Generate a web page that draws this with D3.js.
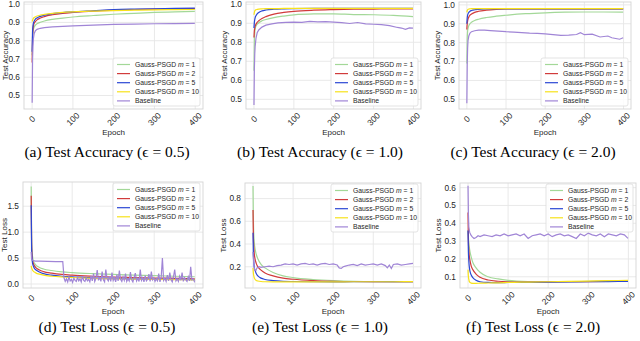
<!DOCTYPE html>
<html>
<head>
<meta charset="utf-8">
<script src="https://d3js.org/d3.v7.min.js"></script>
<style>
  body { margin: 0; background: #fff; }
  svg text { font-family: "Liberation Sans", Arial, sans-serif; fill: #262626; }
  .caption { font-family: "Liberation Serif", "DejaVu Serif", serif; fill: #000; }
</style>
</head>
<body>
<script>
// epochs shared by the smooth curves
const ep = [0, 1, 2, 3, 5, 8, 12, 20, 30, 50, 75, 100, 150, 200, 250, 300, 350, 399];
const xTicks = [0, 100, 200, 300, 400];
const seriesNames = ["1", "2", "5", "10"];
const colors = ["#a3d898", "#d13b3b", "#2b47d4", "#f7e21a", "#a085d6"];

// ---- accuracy, eps = 0.5
const accA_m1 = [0.72, 0.80, 0.84, 0.86, 0.875, 0.885, 0.893, 0.901, 0.908, 0.917, 0.924, 0.930, 0.938, 0.945, 0.950, 0.955, 0.958, 0.961];
const accA_m2 = [0.68, 0.82, 0.86, 0.88, 0.895, 0.905, 0.914, 0.924, 0.932, 0.942, 0.950, 0.955, 0.962, 0.968, 0.971, 0.973, 0.975, 0.976];
const accA_m5 = [0.74, 0.85, 0.88, 0.895, 0.908, 0.918, 0.925, 0.933, 0.940, 0.948, 0.954, 0.958, 0.964, 0.970, 0.973, 0.975, 0.977, 0.979];
const accA_m10 = [0.905, 0.912, 0.918, 0.922, 0.927, 0.931, 0.935, 0.940, 0.944, 0.950, 0.955, 0.958, 0.962, 0.965, 0.967, 0.969, 0.970, 0.971];
const accA_baseEp = ep;
const accA_base = [0.46, 0.70, 0.77, 0.81, 0.84, 0.855, 0.862, 0.868, 0.872, 0.876, 0.879, 0.881, 0.885, 0.889, 0.891, 0.893, 0.894, 0.895];

// ---- accuracy, eps = 1.0
const accB_m1 = [0.65, 0.80, 0.85, 0.87, 0.885, 0.895, 0.903, 0.913, 0.92, 0.93, 0.938, 0.944, 0.949, 0.950, 0.946, 0.945, 0.942, 0.935];
const accB_m2 = [0.825, 0.86, 0.875, 0.885, 0.895, 0.905, 0.913, 0.925, 0.935, 0.948, 0.957, 0.963, 0.969, 0.972, 0.974, 0.975, 0.976, 0.976];
const accB_m5 = [0.875, 0.905, 0.92, 0.93, 0.94, 0.95, 0.957, 0.965, 0.970, 0.974, 0.976, 0.977, 0.978, 0.978, 0.978, 0.978, 0.978, 0.979];
const accB_m10 = [0.945, 0.958, 0.965, 0.968, 0.971, 0.973, 0.975, 0.976, 0.977, 0.977, 0.978, 0.978, 0.978, 0.978, 0.978, 0.978, 0.978, 0.978];
const accB_baseEp = [0, 1, 2, 3, 5, 8, 12, 20, 30, 45, 60, 80, 100, 120, 140, 160, 180, 200, 220, 240, 260, 280, 300, 320, 340, 360, 370, 380, 390, 399];
const accB_base = [0.47, 0.66, 0.74, 0.78, 0.82, 0.85, 0.865, 0.88, 0.89, 0.897, 0.902, 0.905, 0.906, 0.905, 0.91, 0.907, 0.909, 0.906, 0.903, 0.899, 0.904, 0.897, 0.895, 0.893, 0.888, 0.878, 0.875, 0.868, 0.876, 0.875];

// ---- accuracy, eps = 2.0
const accC_m1 = [0.69, 0.82, 0.86, 0.875, 0.89, 0.9, 0.908, 0.917, 0.924, 0.933, 0.94, 0.945, 0.953, 0.958, 0.961, 0.962, 0.962, 0.961];
const accC_m2 = [0.87, 0.9, 0.915, 0.925, 0.935, 0.945, 0.952, 0.96, 0.966, 0.972, 0.976, 0.978, 0.979, 0.979, 0.979, 0.979, 0.979, 0.979];
const accC_m5 = [0.9, 0.93, 0.945, 0.952, 0.96, 0.966, 0.97, 0.974, 0.976, 0.978, 0.979, 0.979, 0.979, 0.979, 0.979, 0.979, 0.979, 0.979];
const accC_m10 = [0.96, 0.97, 0.974, 0.976, 0.978, 0.979, 0.98, 0.98, 0.98, 0.98, 0.98, 0.98, 0.98, 0.98, 0.98, 0.98, 0.98, 0.98];
const accC_baseEp = [0, 1, 2, 3, 5, 8, 12, 20, 30, 45, 60, 80, 100, 120, 140, 160, 180, 200, 220, 240, 260, 280, 290, 300, 320, 340, 360, 370, 380, 390, 399];
const accC_base = [0.48, 0.68, 0.77, 0.81, 0.835, 0.85, 0.858, 0.863, 0.866, 0.866, 0.864, 0.861, 0.858, 0.856, 0.853, 0.85, 0.849, 0.846, 0.842, 0.838, 0.84, 0.843, 0.853, 0.842, 0.845, 0.83, 0.835, 0.826, 0.822, 0.818, 0.826];

// ---- loss, eps = 0.5
const lossD_m1 = [1.88, 0.9, 0.65, 0.55, 0.45, 0.4, 0.36, 0.32, 0.29, 0.26, 0.235, 0.22, 0.2, 0.185, 0.17, 0.16, 0.15, 0.14];
const lossD_m2 = [1.70, 0.8, 0.55, 0.47, 0.4, 0.35, 0.31, 0.27, 0.24, 0.21, 0.185, 0.17, 0.15, 0.135, 0.125, 0.115, 0.11, 0.1];
const lossD_m5 = [1.52, 0.7, 0.5, 0.42, 0.35, 0.3, 0.27, 0.23, 0.2, 0.17, 0.15, 0.14, 0.12, 0.11, 0.1, 0.095, 0.09, 0.085];
const lossD_m10 = [0.35, 0.31, 0.29, 0.27, 0.25, 0.23, 0.21, 0.19, 0.17, 0.15, 0.135, 0.125, 0.11, 0.1, 0.095, 0.09, 0.085, 0.08];
const lossD_baseEp = [0, 1, 2, 3, 5, 10, 20, 40, 60, 77,
  80, 83, 86, 89, 92, 95, 98, 101, 104, 107,
  110, 113, 116, 119, 122, 125, 128, 131, 134, 137,
  140, 143, 146, 149, 152, 155, 158, 161, 164, 167,
  170, 173, 176, 179, 182, 185, 188, 191, 194, 197,
  200, 203, 206, 209, 212, 215, 218, 221, 224, 227,
  230, 233, 236, 239, 242, 245, 248, 251, 254, 257,
  260, 263, 266, 269, 272, 275, 278, 281, 284, 287,
  290, 293, 296, 299, 302, 305, 308, 311, 314, 317,
  320, 323, 326, 329, 332, 335, 338, 341, 344, 347,
  350, 353, 356, 359, 362, 365, 368, 371, 374, 377,
  380, 383, 386, 389, 392, 395, 398, 399];
const lossD_base = [0.62, 0.5, 0.47, 0.46, 0.45, 0.44, 0.44, 0.435, 0.43, 0.43,
  0.12, 0.05, 0.1, 0.04, 0.14, 0.06, 0.09, 0.03, 0.11, 0.07,
  0.05, 0.13, 0.06, 0.1, 0.04, 0.15, 0.07, 0.05, 0.12, 0.06,
  0.09, 0.04, 0.16, 0.06, 0.2, 0.05, 0.11, 0.27, 0.07, 0.13,
  0.05, 0.24, 0.08, 0.04, 0.28, 0.1, 0.06, 0.15, 0.05, 0.22,
  0.07, 0.12, 0.04, 0.18, 0.06, 0.26, 0.09, 0.05, 0.14, 0.07,
  0.2, 0.05, 0.1, 0.06, 0.23, 0.08, 0.04, 0.13, 0.21, 0.06,
  0.11, 0.05, 0.28, 0.07, 0.12, 0.04, 0.16, 0.06, 0.09, 0.19,
  0.05, 0.24, 0.08, 0.12, 0.05, 0.1, 0.06, 0.2, 0.04, 0.13,
  0.5, 0.07, 0.11, 0.05, 0.17, 0.06, 0.22, 0.08, 0.04, 0.14,
  0.28, 0.06, 0.1, 0.05, 0.15, 0.07, 0.22, 0.05, 0.12, 0.08,
  0.05, 0.14, 0.06, 0.33, 0.08, 0.1, 0.05, 0.07];

// ---- loss, eps = 1.0
const lossE_m1 = [0.91, 0.6, 0.48, 0.42, 0.36, 0.31, 0.27, 0.22, 0.19, 0.15, 0.12, 0.105, 0.088, 0.078, 0.072, 0.07, 0.069, 0.069];
const lossE_m2 = [0.70, 0.45, 0.37, 0.32, 0.27, 0.23, 0.2, 0.17, 0.145, 0.12, 0.1, 0.09, 0.078, 0.072, 0.07, 0.069, 0.069, 0.069];
const lossE_m5 = [0.50, 0.3, 0.24, 0.2, 0.17, 0.14, 0.12, 0.1, 0.088, 0.078, 0.072, 0.07, 0.068, 0.067, 0.068, 0.068, 0.069, 0.069];
const lossE_m10 = [0.19, 0.14, 0.12, 0.105, 0.09, 0.08, 0.075, 0.07, 0.068, 0.067, 0.067, 0.067, 0.067, 0.067, 0.068, 0.068, 0.068, 0.069];
const lossE_baseEp = [0, 2, 4, 7, 10, 15, 20, 30, 40, 50, 60, 70, 80, 90, 100, 110, 120, 130, 140, 150, 160, 170, 180, 190, 200,
  210, 215, 220, 225, 230, 240, 250, 260, 270, 280, 290, 300, 310, 320, 330, 335, 340, 345, 350, 360, 370, 380, 390, 399];
const lossE_base = [0.33, 0.22, 0.17, 0.165, 0.19, 0.2, 0.195, 0.2, 0.205, 0.2, 0.21, 0.215, 0.225, 0.22, 0.225, 0.215, 0.225, 0.23, 0.22, 0.225, 0.215, 0.225, 0.23, 0.22, 0.225,
  0.215, 0.19, 0.185, 0.2, 0.205, 0.215, 0.22, 0.21, 0.225, 0.215, 0.22, 0.225, 0.215, 0.225, 0.21, 0.19, 0.215, 0.185, 0.22, 0.225, 0.215, 0.22, 0.225, 0.23];

// ---- loss, eps = 2.0
const lossF_m1 = [0.36, 0.32, 0.29, 0.27, 0.24, 0.21, 0.18, 0.15, 0.125, 0.1, 0.088, 0.08, 0.073, 0.071, 0.072, 0.074, 0.076, 0.078];
const lossF_m2 = [0.46, 0.3, 0.25, 0.22, 0.19, 0.16, 0.14, 0.115, 0.097, 0.082, 0.075, 0.072, 0.07, 0.071, 0.072, 0.073, 0.074, 0.075];
const lossF_m5 = [0.36, 0.24, 0.19, 0.16, 0.13, 0.11, 0.095, 0.08, 0.072, 0.068, 0.067, 0.068, 0.069, 0.07, 0.071, 0.072, 0.073, 0.074];
const lossF_m10 = [0.14, 0.1, 0.085, 0.075, 0.068, 0.064, 0.063, 0.063, 0.064, 0.065, 0.066, 0.068, 0.07, 0.072, 0.074, 0.076, 0.078, 0.08];
const lossF_baseEp = [0, 1, 2, 4, 7, 10, 15, 20, 25, 30, 40, 50, 60, 70, 80, 90, 100, 110, 120, 130, 140, 150, 160, 170, 180,
  190, 200, 210, 220, 230, 240, 250, 260, 270, 280, 290, 300, 310, 320, 330, 340, 350, 360, 370, 380, 390, 399];
const lossF_base = [0.61, 0.45, 0.38, 0.35, 0.335, 0.325, 0.315, 0.32, 0.33, 0.325, 0.335, 0.33, 0.325, 0.335, 0.33, 0.34, 0.33, 0.335, 0.34, 0.33, 0.34, 0.315, 0.33, 0.335, 0.34,
  0.33, 0.34, 0.325, 0.335, 0.34, 0.33, 0.335, 0.325, 0.315, 0.34, 0.33, 0.345, 0.335, 0.33, 0.34, 0.325, 0.34, 0.335, 0.33, 0.34, 0.335, 0.315];

const accTicks = [0.5, 0.6, 0.7, 0.8, 0.9, 1.0];

// panel layout (frame in px) + which data goes where
const panels = [
  { box: [24, 2, 203, 109], y: [0.426, 1.012], yTicks: accTicks, ylab: "Test Accuracy", legend: "lower",
    lines: [accA_m1, accA_m2, accA_m5, accA_m10], bEp: accA_baseEp, base: accA_base, cap: "(a) Test Accuracy (ϵ = 0.5)" },
  { box: [246, 2, 421, 109], y: [0.449, 1.012], yTicks: accTicks, ylab: "Test Accuracy", legend: "lower",
    lines: [accB_m1, accB_m2, accB_m5, accB_m10], bEp: accB_baseEp, base: accB_base, cap: "(b) Test Accuracy (ϵ = 1.0)" },
  { box: [459, 2, 631, 109], y: [0.449, 1.015], yTicks: accTicks, ylab: "Test Accuracy", legend: "lower",
    lines: [accC_m1, accC_m2, accC_m5, accC_m10], bEp: accC_baseEp, base: accC_base, cap: "(c) Test Accuracy (ϵ = 2.0)" },
  { box: [23, 182, 203, 288], y: [-0.077, 1.967], yTicks: [0.0, 0.5, 1.0, 1.5], ylab: "Test Loss", legend: "upper",
    lines: [lossD_m1, lossD_m2, lossD_m5, lossD_m10], bEp: lossD_baseEp, base: lossD_base, cap: "(d) Test Loss (ϵ = 0.5)" },
  { box: [245, 183, 421, 288], y: [0.013, 0.937], yTicks: [0.2, 0.4, 0.6, 0.8], ylab: "Test Loss", legend: "upper",
    lines: [lossE_m1, lossE_m2, lossE_m5, lossE_m10], bEp: lossE_baseEp, base: lossE_base, cap: "(e) Test Loss (ϵ = 1.0)" },
  { box: [460, 183, 636, 288], y: [0.037, 0.626], yTicks: [0.1, 0.2, 0.3, 0.4, 0.5, 0.6], ylab: "Test Loss", legend: "upper",
    lines: [lossF_m1, lossF_m2, lossF_m5, lossF_m10], bEp: lossF_baseEp, base: lossF_base, cap: "(f) Test Loss (ϵ = 2.0)" }
];

const svg = d3.select("body").append("svg")
  .attr("width", 640).attr("height", 341);

panels.forEach((p, i) => {
  const [x0, y0, x1, y1] = p.box;
  const x = d3.scaleLinear().domain([-20, 419]).range([x0, x1]);
  const y = d3.scaleLinear().domain(p.y).range([y1, y0]);
  const g = svg.append("g");

  g.append("rect").attr("x", x0).attr("y", y0).attr("width", x1 - x0).attr("height", y1 - y0)
    .attr("fill", "#fff");

  // grid
  g.selectAll(".gx").data(xTicks).join("line")
    .attr("x1", d => x(d)).attr("x2", d => x(d)).attr("y1", y0).attr("y2", y1)
    .attr("stroke", "#e6e6e6").attr("stroke-width", 0.9);
  g.selectAll(".gy").data(p.yTicks).join("line")
    .attr("x1", x0).attr("x2", x1).attr("y1", d => y(d)).attr("y2", d => y(d))
    .attr("stroke", "#e6e6e6").attr("stroke-width", 0.9);

  // tick labels
  g.selectAll(".ty").data(p.yTicks).join("text")
    .attr("x", x0 - 4).attr("y", d => y(d)).attr("dy", "0.35em")
    .attr("text-anchor", "end").attr("font-size", 8.3)
    .text(d => d.toFixed(1));
  g.selectAll(".tx").data(xTicks).join("text")
    .attr("transform", d => `translate(${x(d)},${y1 + 10}) rotate(-45)`)
    .attr("text-anchor", "middle").attr("dy", "0.35em").attr("font-size", 8.5)
    .text(d => d);

  // axis labels
  g.append("text").attr("x", (x0 + x1) / 2).attr("y", y1 + 26)
    .attr("text-anchor", "middle").attr("font-size", 8).text("Epoch");
  const labX = i % 3 === 0 ? x0 - 16 : x0 - 19;
  g.append("text")
    .attr("transform", `translate(${labX},${(y0 + y1) / 2}) rotate(-90)`)
    .attr("text-anchor", "middle").attr("font-size", 8).text(p.ylab);

  const clipId = "clip" + i;
  svg.append("clipPath").attr("id", clipId).append("rect")
    .attr("x", x0).attr("y", y0).attr("width", x1 - x0).attr("height", y1 - y0);
  const plot = g.append("g").attr("clip-path", `url(#${clipId})`);

  const smooth = d3.line().x((d, k) => x(ep[k])).y(d => y(d)).curve(d3.curveMonotoneX);
  p.lines.forEach((vals, k) => {
    plot.append("path").attr("d", smooth(vals)).attr("fill", "none")
      .attr("stroke", colors[k]).attr("stroke-width", 1.2);
  });
  // baseline last, it sits on top like in the original
  const bl = d3.line().x((d, k) => x(p.bEp[k])).y(d => y(d)).curve(d3.curveLinear);
  plot.append("path").attr("d", bl(p.base)).attr("fill", "none")
    .attr("stroke", colors[4]).attr("stroke-width", 1.2);

  // frame
  g.append("rect").attr("x", x0).attr("y", y0).attr("width", x1 - x0).attr("height", y1 - y0)
    .attr("fill", "none").attr("stroke", "#d4d4d4").attr("stroke-width", 0.9);

  // legend
  const lw = 87, lh = 48;
  const lx = x1 - lw - 3;
  const ly = p.legend === "upper" ? y0 + 1 : y1 - lh - 3;
  const leg = g.append("g").attr("transform", `translate(${lx},${ly})`);
  leg.append("rect").attr("width", lw).attr("height", lh).attr("rx", 2)
    .attr("fill", "#fff").attr("fill-opacity", 0.85).attr("stroke", "#dcdcdc").attr("stroke-width", 0.8);
  const labels = seriesNames.concat(["Baseline"]);
  labels.forEach((s, k) => {
    const yy = 6.5 + k * 9.1;
    leg.append("line").attr("x1", 4).attr("x2", 17).attr("y1", yy).attr("y2", yy)
      .attr("stroke", colors[k]).attr("stroke-width", 1.2);
    const t = leg.append("text").attr("x", 22).attr("y", yy).attr("dy", "0.35em").attr("font-size", 6.8);
    if (k < 4) {
      t.append("tspan").text("Gauss-PSGD ");
      t.append("tspan").attr("font-style", "italic").text("m");
      t.append("tspan").text(" = " + s);
    } else {
      t.text(s);
    }
  });

  // caption
  svg.append("text").attr("class", "caption")
    .attr("x", [107, 320, 533][i % 3]).attr("y", i < 3 ? 157 : 332)
    .attr("text-anchor", "middle").attr("font-size", 15.5).text(p.cap);
});
</script>
</body>
</html>
